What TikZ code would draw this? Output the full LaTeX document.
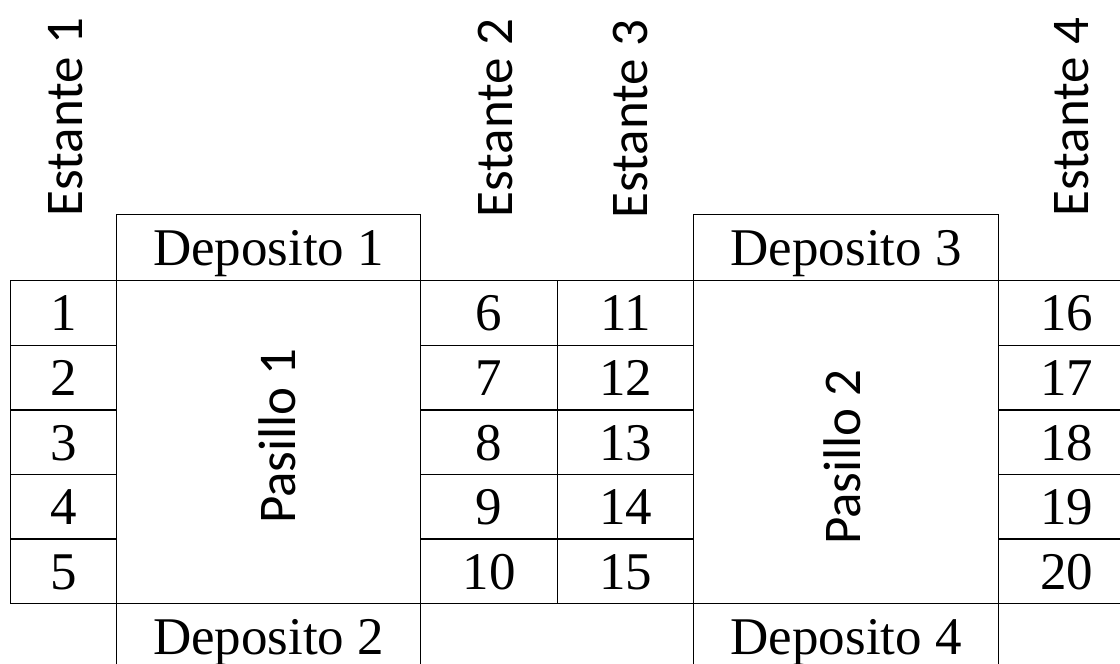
\documentclass[tikz,border=0pt]{standalone}
\usepackage{fontspec}
\setmainfont{Liberation Serif}
\newfontfamily\calibri{Carlito}
\begin{document}
\begin{tikzpicture}[x=1pt,y=1pt,
  cell/.style={draw, line width=1.3pt, rectangle, inner sep=0pt, anchor=north west},
  num/.style={font=\fontsize{53}{60}\selectfont, inner sep=0pt, anchor=base},
  vlbl/.style={font=\calibri\fontsize{53}{60}\selectfont, inner sep=0pt, anchor=base, rotate=90}]
\useasboundingbox (0,0) rectangle (1120,-664);
\clip (0,0) rectangle (1120,-664);
% pasillos and depositos
\node[cell, minimum width=304pt, minimum height=323pt] (p1) at (116,-280) {};
\node[cell, minimum width=305pt, minimum height=323pt] (p2) at (693,-280) {};
\node[cell, minimum width=304pt, minimum height=66pt] (d1) at (116,-214) {};
\node[cell, minimum width=304pt, minimum height=66pt] (d2) at (116,-603) {};
\node[cell, minimum width=305pt, minimum height=66pt] (d3) at (693,-214) {};
\node[cell, minimum width=305pt, minimum height=66pt] (d4) at (693,-603) {};
\node[num] (ld1) at ([yshift=-18pt]d1.center) {Deposito 1};
\node[num] (ld2) at ([yshift=-18pt]d2.center) {Deposito 2};
\node[num] (ld3) at ([yshift=-18pt]d3.center) {Deposito 3};
\node[num] (ld4) at ([yshift=-18pt]d4.center) {Deposito 4};
\node[vlbl] (lp1) at (295,-436) {Pasillo 1};
\node[vlbl] (lp2) at (860,-457) {Pasillo 2};
% estantes
\foreach \i in {1,...,5} {
  \pgfmathsetmacro\yt{-280-(\i-1)*64.6}
  \pgfmathtruncatemacro\na{\i}
  \pgfmathtruncatemacro\nb{\i+5}
  \pgfmathtruncatemacro\nc{\i+10}
  \pgfmathtruncatemacro\nd{\i+15}
  \node[cell, minimum width=106pt, minimum height=64.6pt] (a\i) at (10,\yt) {};
  \node[cell, minimum width=137pt, minimum height=64.6pt] (b\i) at (420,\yt) {};
  \node[cell, minimum width=136pt, minimum height=64.6pt] (c\i) at (557,\yt) {};
  \node[cell, minimum width=138pt, minimum height=64.6pt] (e\i) at (998,\yt) {};
  \node[num] (ta\i) at ([yshift=-18pt]a\i.center) {\na};
  \node[num] (tb\i) at ([yshift=-18pt]b\i.center) {\nb};
  \node[num] (tc\i) at ([yshift=-18pt]c\i.center) {\nc};
  \node[num] (te\i) at ([yshift=-18pt,xshift=-1pt]e\i.center) {\nd};
}
\node[vlbl] (es1) at (82,-117) {Estante 1};
\node[vlbl] (es2) at (512,-118) {Estante 2};
\node[vlbl] (es3) at (647,-119) {Estante 3};
\node[vlbl] (es4) at (1088,-117) {Estante 4};
\end{tikzpicture}
\end{document}
